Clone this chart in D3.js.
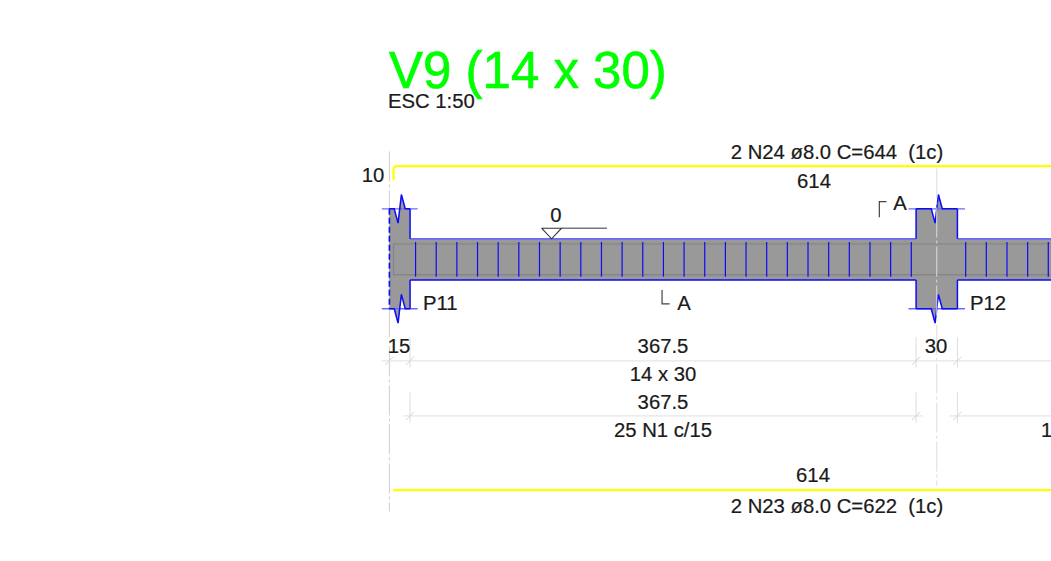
<!DOCTYPE html>
<html>
<head>
<meta charset="utf-8">
<script src="https://cdn.jsdelivr.net/npm/d3@7/dist/d3.min.js"></script>
<style>
  html, body { margin: 0; padding: 0; background: #fff; overflow: hidden; }
  text { font-family: "Liberation Sans", Arial, sans-serif; fill: #1a1a1a; stroke: #1a1a1a; stroke-width: 0.2; white-space: pre; }
</style>
</head>
<body>
<div id="chart"></div>
<script>
// Beam drawing values, all in cm, measured from the left face of P11
const columnNames = ['P11', 'P12'];
const columnStarts = [0, 382.5];
const columnWidths = [15, 30];
const beamDepth = 30;
const columnTop = -21.8;
const columnBottom = 50.8;
const breakOffsets = [-4, -1.2, 1.2, 4];
const breakAmplitudes = [0, 10.4, -10.4, 0];
const stirrupsSpan1 = [19, 34, 49, 64, 79, 94, 109, 124, 139, 154, 169, 184, 199, 214, 229, 244, 259, 274, 289, 304, 319, 334, 349, 364, 379];
const stirrupsSpan2 = [418.5, 433.5, 448.5, 463.5, 478.5];
const dimensionTicks = [0, 15, 382.5, 412.5];
const dimensionLabels = ['15', '367.5', '30'];
const titleText = 'V9 (14 x 30)';
const scaleText = 'ESC 1:50';
const topBarLabel = '2 N24 ø8.0 C=644  (1c)';
const bottomBarLabel = '2 N23 ø8.0 C=622  (1c)';
const barLength = '614';
const barHook = '10';
const sectionLabel = '14 x 30';
const stirrupLabel = '25 N1 c/15';

const width = 1051;
const height = 561;
const pxPerCm = 1.377;
const blue = '#0c0cf5';
const paleBlue = '#6a6af5';
const guide = '#e6e6e6';
const centre = '#cfcfcf';

const xMax = 481;
const x = d3.scaleLinear().domain([0, xMax]).range([389.4, 389.4 + xMax * pxPerCm]);
const y = d3.scaleLinear().domain([0, 100]).range([238.8, 238.8 + 100 * pxPerCm]);
const line = d3.line().x(d => x(d[0])).y(d => y(d[1]));

const svg = d3.select('#chart').append('svg')
  .attr('width', width)
  .attr('height', height)
  .style('display', 'block');

function stroke(points, color, w, dash) {
  return svg.append('path')
    .attr('d', line(points))
    .attr('fill', 'none')
    .attr('stroke', color)
    .attr('stroke-width', w)
    .attr('stroke-dasharray', dash || null);
}

function label(text, px, py, size, anchor) {
  return svg.append('text')
    .attr('x', px)
    .attr('y', py)
    .attr('font-size', size)
    .attr('text-anchor', anchor || 'middle')
    .text(text);
}

// Zigzag break across a column, left to right
function breakPoints(i, level, sign) {
  const mid = columnStarts[i] + columnWidths[i] / 2;
  return breakOffsets.map((o, k) => [mid + o, level + sign * breakAmplitudes[k]]);
}

// Centre line of P11 sits behind the concrete
stroke([[0, -63.5], [0, 198]], centre, 1, '30,3,3,3');

// Concrete
svg.append('rect')
  .attr('x', x(0))
  .attr('y', y(0))
  .attr('width', width - x(0))
  .attr('height', y(beamDepth) - y(0))
  .attr('fill', '#999');

columnStarts.forEach((start, i) => {
  const end = start + columnWidths[i];
  const outline = [[start, columnTop], ...breakPoints(i, columnTop, 1), [end, columnTop],
    [end, columnBottom], ...breakPoints(i, columnBottom, 1).reverse(), [start, columnBottom]];
  svg.append('path')
    .attr('d', line(outline) + 'Z')
    .attr('fill', '#999');
});

// Longitudinal bars inside the beam
stroke([[xMax, 3.7], [3, 3.7], [3, 26.1], [xMax, 26.1]], '#868686', 1.4);

// Stirrups
svg.append('g').selectAll('line')
  .data(stirrupsSpan1.concat(stirrupsSpan2))
  .enter()
  .append('line')
  .attr('x1', d => x(d))
  .attr('x2', d => x(d))
  .attr('y1', y(2.3))
  .attr('y2', y(27.5))
  .attr('stroke', blue)
  .attr('stroke-width', 1.2);

// Beam and column outline
stroke([[15, 0], [382.5, 0]], paleBlue, 1.8);
stroke([[412.5, 0], [xMax, 0]], paleBlue, 1.8);
stroke([[15, beamDepth], [382.5, beamDepth]], blue, 1.5);
stroke([[412.5, beamDepth], [xMax, beamDepth]], blue, 1.5);

columnStarts.forEach((start, i) => {
  const end = start + columnWidths[i];
  stroke([[start - 5.5, columnTop], [end + 5.5, columnTop]], paleBlue, 1.3);
  stroke([[start - 5.5, columnBottom], [end + 5.5, columnBottom]], paleBlue, 1.3);
  stroke([[start, columnTop], ...breakPoints(i, columnTop, 1), [end, columnTop]], blue, 1.5);
  stroke([[start, columnBottom], ...breakPoints(i, columnBottom, 1), [end, columnBottom]], blue, 1.5);
  stroke([[end, columnTop], [end, 0]], blue, 1.5);
  stroke([[end, beamDepth], [end, columnBottom]], blue, 1.5);
  if (i === 0) {
    stroke([[start, columnTop], [start, columnBottom]], blue, 1.6, '6,3');
  } else {
    stroke([[start, columnTop], [start, 0]], blue, 1.5);
    stroke([[start, beamDepth], [start, columnBottom]], blue, 1.5);
  }
});

// Centre line of P12 runs over the concrete
stroke([[397.5, -51], [397.5, 179]], '#dcdcdc', 1, '30,3,3,3');

// Top and bottom bars
const hook = d3.path();
hook.moveTo(x(3), y(-42.6));
hook.lineTo(x(3), y(-50));
hook.quadraticCurveTo(x(3), y(-52.8), x(5.5), y(-52.8));
hook.lineTo(width, y(-52.8));
svg.append('path')
  .attr('d', hook.toString())
  .attr('fill', 'none')
  .attr('stroke', '#ffff00')
  .attr('stroke-width', 2.2);
stroke([[2.6, 182.5], [xMax, 182.5]], '#ffff00', 2.2);

// Dimension chains
const dimY1 = 88.6;
const dimY2 = 128.6;
stroke([[-5.5, dimY1], [xMax, dimY1]], guide, 1.2);
stroke([[10, dimY2], [387, dimY2]], guide, 1.2);
stroke([[407, dimY2], [xMax, dimY2]], guide, 1.2);

dimensionTicks.forEach((d, i) => {
  if (i > 0) {
    stroke([[d, 71.5], [d, 93.5]], '#dcdcdc', 1);
    stroke([[d, 111.5], [d, 133.5]], '#dcdcdc', 1);
    stroke([[d - 3, dimY2 + 3], [d + 3, dimY2 - 3]], '#d4d4d4', 1);
  }
  stroke([[d - 3, dimY1 + 3], [d + 3, dimY1 - 3]], '#d4d4d4', 1);
});

// Level mark
stroke([[110.5, -7.7], [125, -7.7], [117.8, 0], [110.5, -7.7]], '#333', 1.1);
stroke([[125, -7.7], [158, -7.7]], '#777', 1.5);

// Section marks
stroke([[355.8, -15.6], [355.8, -27], [361, -27]], '#444', 1.2);
stroke([[198, 37.2], [198, 47.3], [203.5, 47.3]], '#444', 1.2);

// Texts
label(titleText, 389, 88, 51, 'start')
  .style('fill', '#00ff00')
  .style('stroke', '#00ff00')
  .style('stroke-width', 0.6);
label(scaleText, 388, 108, 20.3, 'start');
label(topBarLabel, 837, 159, 20.3);
label(barLength, 814, 188, 20.3);
label(barHook, 373, 182, 20.3);
label('0', 556, 222, 20.3);
label(columnNames[0], 423, 310, 20.3, 'start');
label(columnNames[1], 970, 310, 20.3, 'start');
label('A', 900, 210, 20.3);
label('A', 684, 310, 20.3);
label(dimensionLabels[0], 399, 353, 20.3);
label(dimensionLabels[1], 663, 353, 20.3);
label(dimensionLabels[2], 936, 353, 20.3);
label(sectionLabel, 663, 381, 20.3);
label(dimensionLabels[1], 663, 409, 20.3);
label(stirrupLabel, 663, 437, 20.3);
label('1', 1041, 437, 20.3, 'start');
label(barLength, 813, 482, 20.3);
label(bottomBarLabel, 837, 513, 20.3);
</script>
</body>
</html>
